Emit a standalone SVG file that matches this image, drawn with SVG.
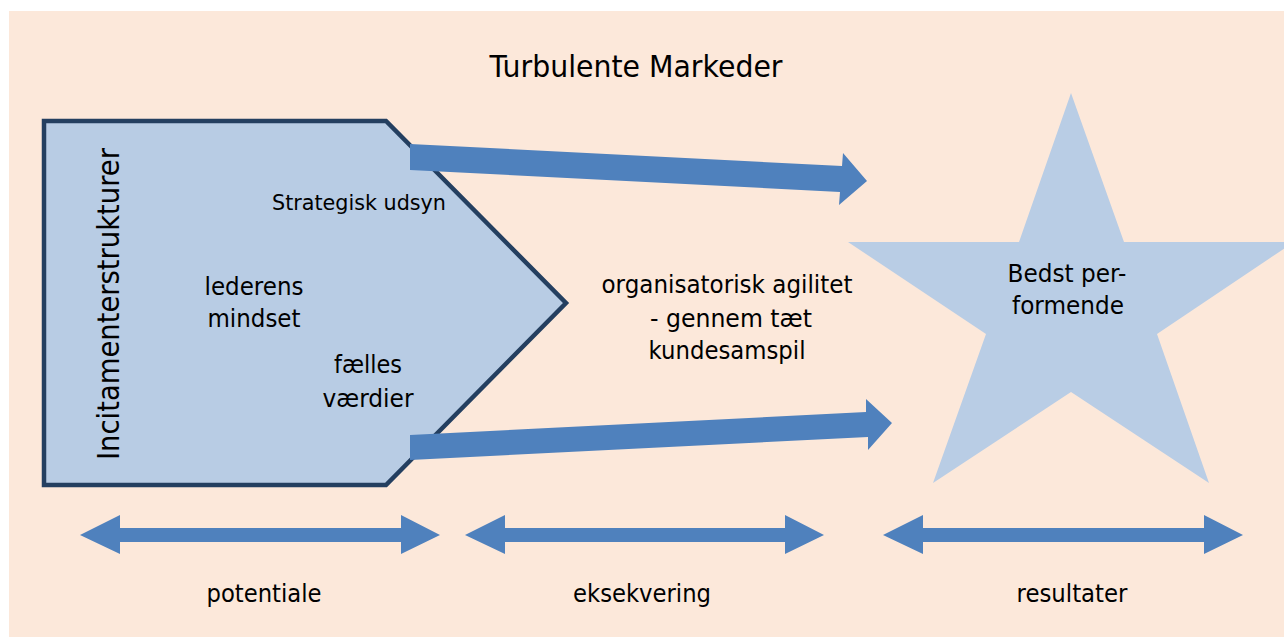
<svg xmlns="http://www.w3.org/2000/svg" width="1284" height="637" viewBox="0 0 1284 637">
  <style>
    .lbl { font-family: "DejaVu Sans", "Liberation Sans", sans-serif; fill: #000; }
    .c { text-anchor: middle; }
    .flow { fill: #4F81BD; }
  </style>
  <defs>
    <clipPath id="page"><rect x="0" y="0" width="1284" height="637"/></clipPath>
  </defs>

  <!-- page background -->
  <rect x="0" y="0" width="1284" height="637" fill="#FFFFFF"/>
  <rect x="9" y="11" width="1275" height="626" fill="#FCE8DA"/>

  <text class="lbl c" x="636" y="77" font-size="30" textLength="293" lengthAdjust="spacingAndGlyphs">Turbulente Markeder</text>

  <!-- potential block -->
  <g id="potentiale-block">
    <path d="M44,121 L386,121 L566,303 L386,485 L44,485 Z" fill="#B8CCE4" stroke="#243F60" stroke-width="4.5" stroke-linejoin="miter"/>
    <text class="lbl c" transform="translate(119,304) rotate(-90)" font-size="29.5" textLength="312" lengthAdjust="spacingAndGlyphs">Incitamenterstrukturer</text>
    <text class="lbl c" x="359" y="210" font-size="22" textLength="174" lengthAdjust="spacingAndGlyphs">Strategisk udsyn</text>
    <text class="lbl c" x="254" y="295" font-size="24.5" textLength="99" lengthAdjust="spacingAndGlyphs">lederens</text>
    <text class="lbl c" x="254" y="327" font-size="24.5" textLength="93" lengthAdjust="spacingAndGlyphs">mindset</text>
    <text class="lbl c" x="368" y="373" font-size="24.5" textLength="68" lengthAdjust="spacingAndGlyphs">fælles</text>
    <text class="lbl c" x="368" y="407" font-size="24.5" textLength="91" lengthAdjust="spacingAndGlyphs">værdier</text>
  </g>

  <!-- execution label -->
  <g id="eksekvering-text">
    <text class="lbl c" x="727" y="293" font-size="24.5" textLength="251" lengthAdjust="spacingAndGlyphs">organisatorisk agilitet</text>
    <text class="lbl c" x="731" y="327" font-size="24.5" textLength="162" lengthAdjust="spacingAndGlyphs">- gennem tæt</text>
    <text class="lbl c" x="727" y="359" font-size="24.5" textLength="157" lengthAdjust="spacingAndGlyphs">kundesamspil</text>
  </g>

  <!-- result star -->
  <g id="star" clip-path="url(#page)">
    <polygon points="1071,93 1124,242 1294,242 1157,334 1209,483 1071,392 933,483 986,334 848,242 1019,242" fill="#B9CDE5"/>
    <text class="lbl c" x="1067" y="282" font-size="24.5" textLength="119" lengthAdjust="spacingAndGlyphs">Bedst per-</text>
    <text class="lbl c" x="1068" y="314" font-size="24.5" textLength="112" lengthAdjust="spacingAndGlyphs">formende</text>
  </g>

  <!-- connectors -->
  <g id="connectors">
    <polygon class="flow" points="410,144 842,166 843,153 867,181 839,205 840,192 410,170"/>
    <polygon class="flow" points="410,435 866,412 866,399 892,423 868,450 868,437 410,460"/>
    <polygon class="flow" points="80,535 120,515 120,528 401,528 401,515 440,535 401,554 401,542 120,542 120,554"/>
    <polygon class="flow" points="465,535 505,515 505,528 785,528 785,515 824,535 785,554 785,542 505,542 505,554"/>
    <polygon class="flow" points="883,535 923,515 923,528 1204,528 1204,515 1243,535 1204,554 1204,542 923,542 923,554"/>
  </g>

  <!-- phase labels -->
  <g id="phases">
    <text class="lbl c" x="264" y="602" font-size="24" textLength="115" lengthAdjust="spacingAndGlyphs">potentiale</text>
    <text class="lbl c" x="642" y="602" font-size="24" textLength="138" lengthAdjust="spacingAndGlyphs">eksekvering</text>
    <text class="lbl c" x="1072" y="602" font-size="24" textLength="111" lengthAdjust="spacingAndGlyphs">resultater</text>
  </g>
</svg>
